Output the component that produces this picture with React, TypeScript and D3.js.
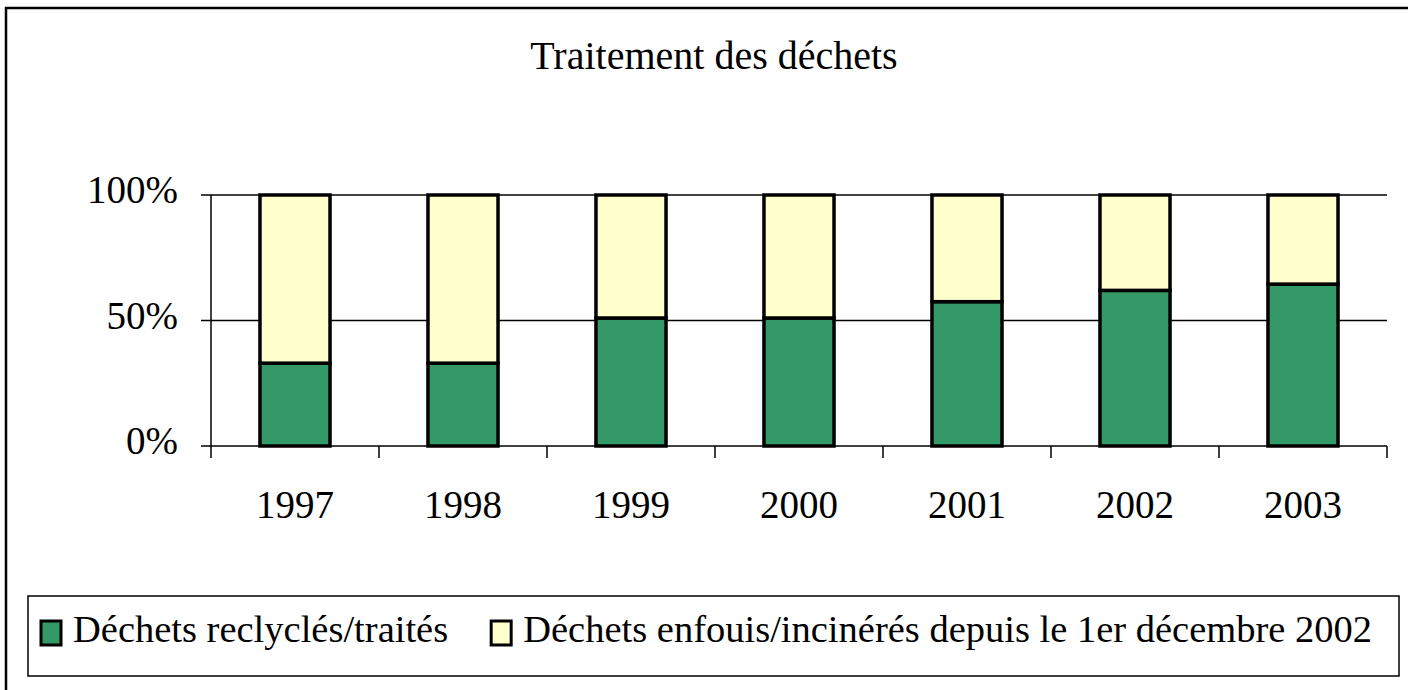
import React, {useEffect, useRef} from 'react';
import * as d3 from 'd3';

// données
const years = ['1997', '1998', '1999', '2000', '2001', '2002', '2003'];
const recycled = [0.33, 0.33, 0.51, 0.51, 0.575, 0.62, 0.645];
const buried = recycled.map(v => 1 - v);
const yTicks = [0, 0.5, 1];
const seriesNames = [
  'Déchets reclyclés/traités',
  'Déchets enfouis/incinérés depuis le 1er décembre 2002'
];
const colors = ['#339966', '#FFFFCC'];

const W = 1408;
const H = 690;
const FONT = '"Liberation Serif", "Times New Roman", serif';

export default function App() {
  const ref = useRef<SVGSVGElement>(null);

  useEffect(() => {
    const svg = d3.select(ref.current);
    svg.selectAll('*').remove();

    // cadre extérieur
    svg.append('rect')
      .attr('x', 6).attr('y', 8)
      .attr('width', W).attr('height', H)
      .attr('fill', 'white').attr('stroke', 'black').attr('stroke-width', 2.5);

    svg.append('text')
      .attr('x', 714).attr('y', 69)
      .attr('text-anchor', 'middle')
      .attr('font-family', FONT).attr('font-size', 40)
      .text('Traitement des déchets');

    const x = d3.scaleBand<string>()
      .domain(years)
      .range([211, 1387])
      .paddingInner(0.583)
      .paddingOuter(0.2915);
    const y = d3.scaleLinear().domain([0, 1]).range([446, 195]);

    // grille
    svg.selectAll('.grid')
      .data(yTicks)
      .enter().append('line')
      .attr('x1', 201).attr('x2', 1387)
      .attr('y1', d => y(d)).attr('y2', d => y(d))
      .attr('stroke', 'black').attr('stroke-width', 1.5);

    svg.append('line')
      .attr('x1', 211).attr('x2', 211)
      .attr('y1', y(1)).attr('y2', 458)
      .attr('stroke', 'black').attr('stroke-width', 1.5);

    const step = x.step();
    const bounds = years.map((d, i) => 211 + i * step).concat([1387]);
    svg.selectAll('.xtick')
      .data(bounds.slice(1))
      .enter().append('line')
      .attr('x1', d => d).attr('x2', d => d)
      .attr('y1', y(0)).attr('y2', 458)
      .attr('stroke', 'black').attr('stroke-width', 1.5);

    svg.selectAll('.ylab')
      .data(yTicks)
      .enter().append('text')
      .attr('x', 178).attr('y', d => y(d) + 8)
      .attr('text-anchor', 'end')
      .attr('font-family', FONT).attr('font-size', 39)
      .text(d => d3.format('.0%')(d));

    svg.selectAll('.xlab')
      .data(years)
      .enter().append('text')
      .attr('x', d => x(d)! + x.bandwidth() / 2).attr('y', 518)
      .attr('text-anchor', 'middle')
      .attr('font-family', FONT).attr('font-size', 39)
      .text(d => d);

    // barres empilées
    const stackData = years.map((yr, i) => ({year: yr, a: recycled[i], b: buried[i]}));
    const series = d3.stack<any>().keys(['a', 'b'])(stackData);
    series.forEach((s, k) => {
      svg.selectAll('.bar' + k)
        .data(s)
        .enter().append('rect')
        .attr('x', d => x(d.data.year)!)
        .attr('y', d => y(d[1]))
        .attr('width', x.bandwidth())
        .attr('height', d => y(d[0]) - y(d[1]))
        .attr('fill', colors[k])
        .attr('stroke', 'black').attr('stroke-width', 3.5);
    });

    // légende
    svg.append('rect')
      .attr('x', 28).attr('y', 596)
      .attr('width', 1371).attr('height', 80)
      .attr('fill', 'white').attr('stroke', 'black').attr('stroke-width', 1.5);

    const legendItem = (k: number, textX: number, anchor: string) => {
      const t = svg.append('text')
        .attr('x', textX).attr('y', 642)
        .attr('text-anchor', anchor)
        .attr('font-family', FONT).attr('font-size', 38.5)
        .text(seriesNames[k]);
      const len = (t.node() as SVGTextElement).getComputedTextLength();
      const start = anchor === 'end' ? textX - len : textX;
      svg.append('rect')
        .attr('x', start - 32).attr('y', 621)
        .attr('width', 20).attr('height', 24)
        .attr('fill', colors[k])
        .attr('stroke', 'black').attr('stroke-width', 3);
    };
    legendItem(0, 73, 'start');
    legendItem(1, 1372, 'end');
  }, []);

  return (
    <div style={{position: 'absolute', left: 0, top: 0, width: W, height: H, overflow: 'hidden'}}>
      <svg ref={ref} width={W} height={H} style={{display: 'block'}} />
    </div>
  );
}
